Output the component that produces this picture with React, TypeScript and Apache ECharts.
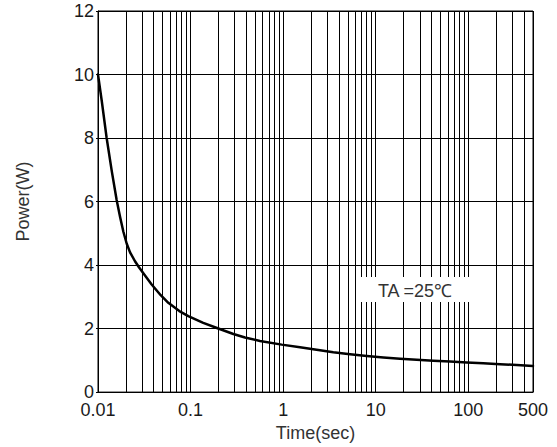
import React, { useEffect, useRef } from "react";
import * as echarts from "echarts";

// Pulse power derating curve (time in seconds, power in watts)
const timeSec = [
  0.01, 0.011, 0.0124, 0.0141, 0.0159, 0.0173, 0.0188, 0.0204, 0.0222, 0.0251,
  0.0277, 0.0322, 0.038, 0.0476, 0.0575, 0.0756, 0.0945, 0.137, 0.196, 0.29,
  0.387, 0.562, 0.965, 1.52, 2.3, 3.48, 5.28, 7.99, 12.1, 18.3, 27.7, 41.9,
  63.5, 96.2, 145, 220, 334, 500,
];
const powerW = [
  10, 9.15, 8.0, 6.95, 6.05, 5.52, 5.05, 4.68, 4.4, 4.12, 3.93, 3.67, 3.39, 3.05,
  2.81, 2.55, 2.39, 2.18, 2.01, 1.83, 1.72, 1.61, 1.495, 1.415, 1.335, 1.255,
  1.19, 1.135, 1.09, 1.052, 1.02, 0.99, 0.96, 0.932, 0.905, 0.88, 0.853, 0.825,
];

// Log-paper minor grid positions (2..9 of each decade)
const minorGridTimes = [
  0.02, 0.03, 0.04, 0.05, 0.06, 0.07, 0.08, 0.09,
  0.2, 0.3, 0.4, 0.5, 0.6, 0.7, 0.8, 0.9,
  2, 3, 4, 5, 6, 7, 8, 9,
  20, 30, 40, 50, 60, 70, 80, 90,
  200, 300, 400,
];

const yTicks = [0, 2, 4, 6, 8, 10, 12];
const annotation = "TA =25℃";

const FONT = "'Liberation Sans', Arial, Helvetica, sans-serif";
const TEXT = "#1a1a1a";

export default function App() {
  const ref = useRef<HTMLDivElement>(null);

  useEffect(() => {
    if (!ref.current) return;
    const chart = echarts.init(ref.current, undefined, { renderer: "svg" });
    chart.setOption({
      animation: false,
      backgroundColor: "#ffffff",
      grid: {
        left: 98,
        right: 24,
        top: 11,
        bottom: 53,
        show: true,
        borderColor: "#000",
        borderWidth: 1,
      },
      xAxis: {
        type: "log",
        logBase: 10,
        min: timeSec[0],
        max: timeSec[timeSec.length - 1],
        name: "Time(sec)",
        nameLocation: "middle",
        nameGap: 26,
        nameTextStyle: { fontFamily: FONT, fontSize: 18, color: "#333" },
        axisLine: { show: true, lineStyle: { color: "#000", width: 1 } },
        axisTick: { show: false },
        axisLabel: {
          fontFamily: FONT,
          fontSize: 18,
          color: TEXT,
          margin: 9,
          showMinLabel: true,
          showMaxLabel: true,
          formatter: (v: number) => String(Number(v.toPrecision(3))),
        },
        splitLine: { show: true, lineStyle: { color: "#000", width: 1 } },
      },
      yAxis: {
        type: "value",
        min: yTicks[0],
        max: yTicks[yTicks.length - 1],
        interval: 2,
        name: "Power(W)",
        nameLocation: "middle",
        nameRotate: 90,
        nameGap: 66,
        nameTextStyle: { fontFamily: FONT, fontSize: 18, color: "#333" },
        axisLine: { show: true, lineStyle: { color: "#000", width: 1 } },
        axisTick: { show: true, length: 2, lineStyle: { color: "#000" } },
        axisLabel: {
          fontFamily: FONT,
          fontSize: 18,
          color: TEXT,
          margin: 4,
        },
        splitLine: { show: true, lineStyle: { color: "#000", width: 1 } },
      },
      series: [
        {
          name: "grid",
          type: "line",
          data: [],
          z: 1,
          silent: true,
          markLine: {
            silent: true,
            symbol: ["none", "none"],
            label: { show: false },
            lineStyle: { color: "#000", width: 1, type: "solid" },
            emphasis: { disabled: true },
            data: minorGridTimes.map((t) => ({ xAxis: t })),
          },
        },
        {
          name: "Power",
          type: "line",
          z: 5,
          data: timeSec.map((t, i) => [t, powerW[i]]),
          showSymbol: false,
          smooth: false,
          lineStyle: { color: "#000", width: 2.5, join: "round", cap: "round" },
        },
      ],
      graphic: [
        {
          type: "rect",
          z: 100,
          shape: { x: 361, y: 277, width: 110, height: 25 },
          style: { fill: "#fff" },
        },
        {
          type: "text",
          z: 101,
          x: 415,
          y: 291,
          style: {
            text: annotation,
            fontFamily: FONT,
            fontSize: 18,
            fill: "#333",
            align: "center",
            verticalAlign: "middle",
          },
        },
      ],
    });
    return () => chart.dispose();
  }, []);

  return (
    <div
      ref={ref}
      style={{ position: "fixed", left: 0, top: 0, width: 557, height: 447 }}
    />
  );
}
